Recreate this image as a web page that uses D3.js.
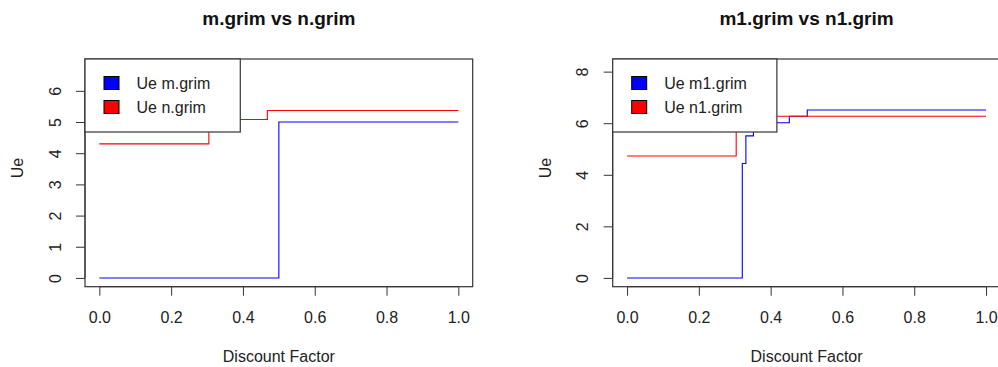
<!DOCTYPE html>
<html>
<head>
<meta charset="utf-8">
<script src="https://cdn.jsdelivr.net/npm/d3@7"></script>
<style>
  html, body { margin: 0; padding: 0; background: #fff; }
  svg { display: block; font-family: "Liberation Sans", Arial, sans-serif; }
</style>
</head>
<body>
<svg id="chart" width="998" height="367"></svg>
<script>
// ---- data ----
const xTicks = [0, 0.2, 0.4, 0.6, 0.8, 1.0];

const leftTitle = "m.grim vs n.grim";
const leftYTicks = [0, 1, 2, 3, 4, 5, 6];
const leftLegend = ["Ue m.grim", "Ue n.grim"];
const mGrimX = [0, 0.5, 1.0];
const mGrimY = [0, 5.0, 5.0];
const nGrimX = [0, 0.305, 0.468, 1.0];
const nGrimY = [4.3, 5.08, 5.37, 5.37];

const rightTitle = "m1.grim vs n1.grim";
const rightYTicks = [0, 2, 4, 6, 8];
const rightLegend = ["Ue m1.grim", "Ue n1.grim"];
const m1GrimX = [0, 0.321, 0.331, 0.352, 0.452, 0.502, 1.0];
const m1GrimY = [0, 4.44, 5.51, 6.02, 6.27, 6.51, 6.51];
const n1GrimX = [0, 0.304, 1.0];
const n1GrimY = [4.73, 6.27, 6.27];

const xLabel = "Discount Factor";
const yLabel = "Ue";
const seriesColors = ["#0000ff", "#ff0000"];

// ---- drawing ----
const svg = d3.select("#chart");

function panel(opt) {
  const g = svg.append("g");
  const x = d3.scaleLinear().domain([-0.04, 1.04]).range([opt.left, opt.right]);
  const y = d3.scaleLinear().domain(opt.yDomain).range([opt.bottom, opt.top]);
  const ink = "#222";

  // title
  g.append("text")
    .attr("x", (opt.left + opt.right) / 2).attr("y", 25)
    .attr("text-anchor", "middle")
    .attr("font-size", "19px").attr("font-weight", "bold")
    .attr("fill", "#111")
    .text(opt.title);

  // lines
  const line = d3.line().x(d => x(d[0])).y(d => y(d[1])).curve(d3.curveStepAfter);
  opt.series.forEach((s, i) => {
    g.append("path")
      .datum(d3.zip(s.x, s.y))
      .attr("d", line)
      .attr("fill", "none")
      .attr("stroke", seriesColors[i])
      .attr("stroke-width", 1.1);
  });

  // box
  g.append("rect")
    .attr("x", opt.left).attr("y", opt.top)
    .attr("width", opt.right - opt.left).attr("height", opt.bottom - opt.top)
    .attr("fill", "none").attr("stroke", "#333").attr("stroke-width", 1.2);

  // x axis
  const xa = g.append("g").attr("transform", `translate(0,${opt.bottom})`)
    .call(d3.axisBottom(x).tickValues(xTicks).tickFormat(d3.format(".1f")).tickSize(9).tickPadding(0));
  xa.select(".domain").attr("d", `M${x(xTicks[0])},0H${x(xTicks[xTicks.length - 1])}`).attr("stroke", "#333");
  xa.selectAll(".tick line").attr("stroke", "#333");
  xa.selectAll(".tick text").attr("y", 0).attr("dy", null)
    .attr("transform", "translate(0,36)")
    .attr("font-size", "16px").attr("fill", ink)
    .attr("font-family", "Liberation Sans, Arial, sans-serif");

  // y axis
  const ya = g.append("g").attr("transform", `translate(${opt.left},0)`)
    .call(d3.axisLeft(y).tickValues(opt.yTicks).tickFormat(d3.format("d")).tickSize(9));
  ya.select(".domain").attr("d", `M0,${y(opt.yTicks[0])}V${y(opt.yTicks[opt.yTicks.length - 1])}`).attr("stroke", "#333");
  ya.selectAll(".tick line").attr("stroke", "#333");
  ya.selectAll(".tick text")
    .attr("x", null).attr("dy", null)
    .attr("text-anchor", "middle")
    .attr("transform", "translate(-30,0) rotate(-90)")
    .attr("y", 0).attr("dy", "0.35em")
    .attr("font-size", "16px").attr("fill", ink)
    .attr("font-family", "Liberation Sans, Arial, sans-serif");

  // axis labels
  g.append("text")
    .attr("x", (opt.left + opt.right) / 2).attr("y", 362)
    .attr("text-anchor", "middle").attr("font-size", "16px").attr("fill", ink)
    .text(xLabel);
  g.append("text")
    .attr("transform", `translate(${opt.left - 67.5},168) rotate(-90)`)
    .attr("text-anchor", "middle").attr("dy", "0.35em")
    .attr("font-size", "16px").attr("fill", ink)
    .text(yLabel);

  // legend
  const lg = g.append("g");
  const lbox = lg.append("rect")
    .attr("x", opt.left).attr("y", opt.top)
    .attr("height", 73)
    .attr("fill", "#fff").attr("stroke", "#333").attr("stroke-width", 1.2);
  let maxW = 0;
  opt.legend.forEach((t, i) => {
    const cy = opt.top + 24 + i * 24;
    lg.append("rect")
      .attr("x", opt.left + 19).attr("y", cy - 6.5)
      .attr("width", 15).attr("height", 13)
      .attr("fill", seriesColors[i]).attr("stroke", "#000").attr("stroke-width", 1);
    const tx = lg.append("text")
      .attr("x", opt.left + 51.5).attr("y", cy + 6)
      .attr("font-size", "16px").attr("fill", ink)
      .text(t);
    maxW = Math.max(maxW, tx.node().getComputedTextLength());
  });
  lbox.attr("width", 51.5 + maxW + 30);
}

panel({
  left: 85, right: 472.7, top: 59, bottom: 286.7,
  yDomain: [-0.28, 7.02], yTicks: leftYTicks, title: leftTitle, legend: leftLegend,
  series: [{x: mGrimX, y: mGrimY}, {x: nGrimX, y: nGrimY}]
});
panel({
  left: 612.7, right: 1000.4, top: 59, bottom: 286.7,
  yDomain: [-0.34, 8.49], yTicks: rightYTicks, title: rightTitle, legend: rightLegend,
  series: [{x: m1GrimX, y: m1GrimY}, {x: n1GrimX, y: n1GrimY}]
});
</script>
</body>
</html>
